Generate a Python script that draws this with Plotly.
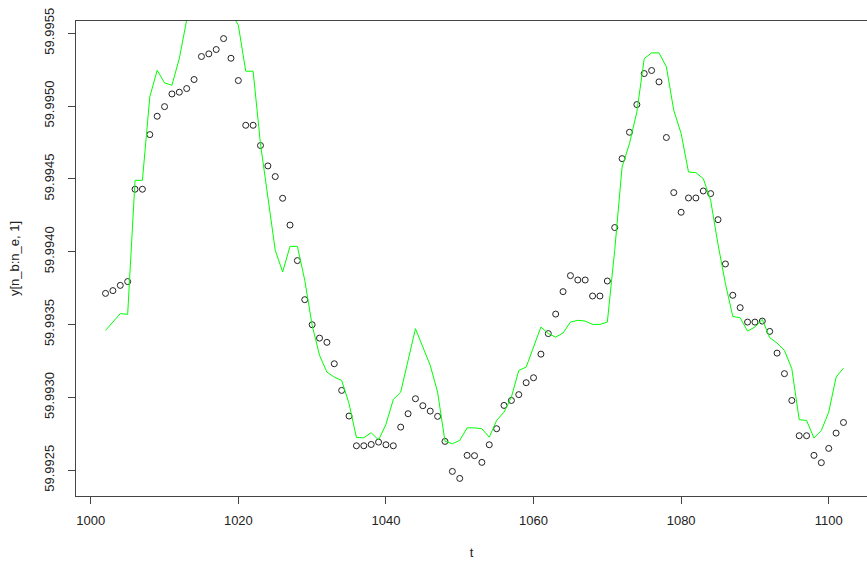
import plotly.graph_objects as go

# time index
t = list(range(1002, 1103))

# observed values (open circles)
y_obs = [
    59.993714, 59.993733, 59.993769, 59.993795, 59.994429, 59.994429, 59.994804, 59.994930, 59.994996, 59.995083,
    59.995095, 59.995120, 59.995182, 59.995340, 59.995358, 59.995388, 59.995463, 59.995328, 59.995175, 59.994868,
    59.994868, 59.994729, 59.994589, 59.994516, 59.994367, 59.994183, 59.993939, 59.993671, 59.993499, 59.993407,
    59.993378, 59.993231, 59.993048, 59.992872, 59.992668, 59.992668, 59.992677, 59.992693, 59.992675, 59.992668,
    59.992796, 59.992888, 59.992991, 59.992943, 59.992906, 59.992870, 59.992698, 59.992492, 59.992444, 59.992602,
    59.992600, 59.992554, 59.992675, 59.992785, 59.992945, 59.992979, 59.993019, 59.993101, 59.993135, 59.993297,
    59.993438, 59.993572, 59.993726, 59.993836, 59.993806, 59.993806, 59.993696, 59.993696, 59.993799, 59.994166,
    59.994639, 59.994820, 59.995010, 59.995223, 59.995244, 59.995166, 59.994784, 59.994406, 59.994271, 59.994369,
    59.994369, 59.994417, 59.994399, 59.994220, 59.993916, 59.993701, 59.993616, 59.993517, 59.993517, 59.993524,
    59.993453, 59.993304, 59.993163, 59.992979, 59.992737, 59.992737, 59.992602, 59.992552, 59.992650, 59.992755,
    59.992828,
]

# fitted / filtered values (green line)
y_fit = [
    59.993460, 59.993517, 59.993575, 59.993570, 59.994490, 59.994490, 59.995063, 59.995246, 59.995159, 59.995143,
    59.995326, 59.995590, 59.995700, 59.995780, 59.995820, 59.995810, 59.995750, 59.995640, 59.995555, 59.995239,
    59.995239, 59.994740, 59.994367, 59.994010, 59.993861, 59.994037, 59.994037, 59.993804, 59.993495, 59.993289,
    59.993174, 59.993139, 59.993117, 59.992957, 59.992725, 59.992723, 59.992758, 59.992707, 59.992815, 59.992986,
    59.993036, 59.993254, 59.993472, 59.993346, 59.993220, 59.993036, 59.992699, 59.992682, 59.992705, 59.992791,
    59.992791, 59.992785, 59.992727, 59.992842, 59.992899, 59.993002, 59.993185, 59.993208, 59.993346, 59.993483,
    59.993438, 59.993414, 59.993442, 59.993517, 59.993529, 59.993524, 59.993501, 59.993501, 59.993517, 59.994010,
    59.994582, 59.994742, 59.994959, 59.995326, 59.995365, 59.995365, 59.995269, 59.994971, 59.994811, 59.994547,
    59.994543, 59.994502, 59.994353, 59.994051, 59.993781, 59.993556, 59.993547, 59.993455, 59.993483, 59.993536,
    59.993410, 59.993373, 59.993323, 59.993197, 59.992847, 59.992842, 59.992721, 59.992773, 59.992899, 59.993139,
    59.993201,
]

x_ticks = [1000, 1020, 1040, 1060, 1080, 1100]
y_ticks = [59.9925, 59.9930, 59.9935, 59.9940, 59.9945, 59.9950, 59.9955]
y_tick_text = ["59.9925", "59.9930", "59.9935", "59.9940", "59.9945", "59.9950", "59.9955"]

# R-style axis extension (4%)
xmin, xmax = min(t), max(t)
xpad = 0.04 * (xmax - xmin)
ymin, ymax = min(y_obs), max(y_obs)
ypad = 0.04 * (ymax - ymin)
x_left = xmin - xpad
x_right_full = xmax + xpad
# the screenshot crops the plot on the right; show the visible part
x_right = x_left + (x_right_full - x_left) * (867 - 76) / 797.0

font_family = "Liberation Sans, Arial, sans-serif"
axis_col = "#444444"
text_col = "#222222"

fig = go.Figure()
fig.add_trace(go.Scatter(
    x=t, y=y_obs, mode="markers",
    marker=dict(symbol="circle-open", size=6, color="#222222", line=dict(width=1, color="#222222")),
    showlegend=False, hoverinfo="x+y",
))
fig.add_trace(go.Scatter(
    x=t, y=y_fit, mode="lines",
    line=dict(color="#00ff00", width=1),
    showlegend=False, hoverinfo="x+y",
))

fig.update_layout(
    width=867, height=567,
    margin=dict(l=76, r=0, t=21, b=71),
    paper_bgcolor="white", plot_bgcolor="white",
    font=dict(family=font_family, size=13, color=text_col),
    xaxis=dict(
        range=[x_left, x_right], tickvals=x_ticks, ticktext=[str(v) for v in x_ticks],
        showgrid=False, zeroline=False, showline=True, mirror=True,
        linecolor=axis_col, linewidth=1,
        ticks="outside", ticklen=7, tickcolor=axis_col, tickwidth=1,
        ticklabelstandoff=5,
        title=dict(text="t", standoff=21, font=dict(size=13)),
    ),
    yaxis=dict(
        range=[ymin - ypad, ymax + ypad], tickvals=y_ticks, ticktext=y_tick_text,
        tickangle=-90,
        showgrid=False, zeroline=False, showline=True, mirror=False,
        linecolor=axis_col, linewidth=1,
        ticks="outside", ticklen=7, tickcolor=axis_col, tickwidth=1,
        ticklabelstandoff=9,
        title=dict(text="y[n_b:n_e, 1]", standoff=19, font=dict(size=13)),
    ),
)

fig.write_html("out.html")
